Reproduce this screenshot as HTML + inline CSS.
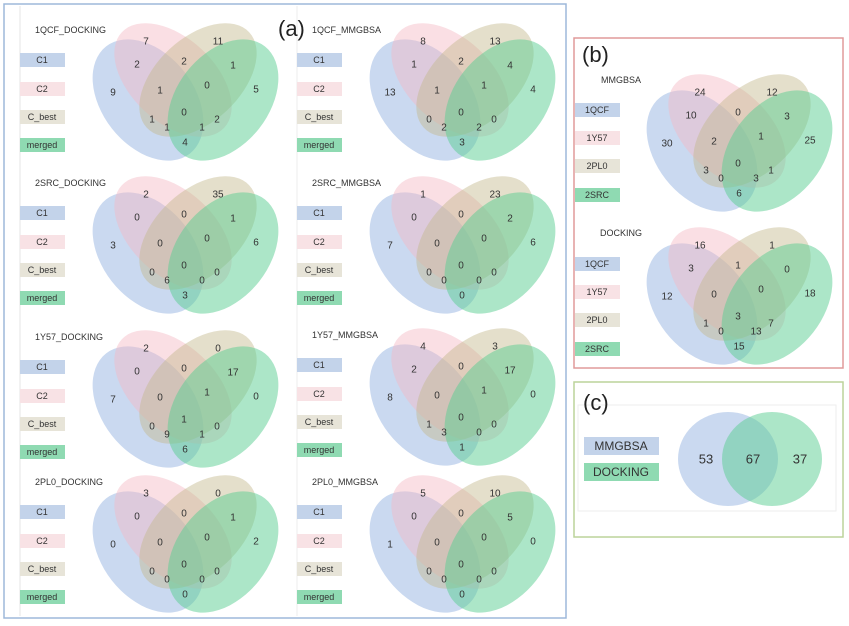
<!DOCTYPE html>
<html><head><meta charset="utf-8"><style>
html,body{margin:0;padding:0;background:#fff}
svg{display:block;font-family:"Liberation Sans",sans-serif}
.n{font-size:10px;fill:#333;text-anchor:middle;dominant-baseline:central}
.l{font-size:9px;fill:#333}
.lg{font-size:9px;fill:#333;text-anchor:middle;dominant-baseline:central}
</style></head><body>
<svg width="849" height="626" viewBox="0 0 849 626" xmlns="http://www.w3.org/2000/svg">
<defs>
<g id="E">
<ellipse cx="148" cy="100" rx="68" ry="46" transform="rotate(52 148 100)" fill="rgba(150,180,225,0.5)"/>
<ellipse cx="173" cy="80" rx="70" ry="42" transform="rotate(43 173 80)" fill="rgba(245,185,195,0.45)"/>
<ellipse cx="198" cy="80" rx="70" ry="42" transform="rotate(-43 198 80)" fill="rgba(195,185,140,0.45)"/>
<ellipse cx="223" cy="100" rx="68" ry="46" transform="rotate(-52 223 100)" fill="rgba(90,205,145,0.5)"/>
</g>
<g id="L">
<rect x="20" y="53" width="45" height="14" fill="#c3d3ea"/>
<rect x="20" y="82" width="45" height="14" fill="#f8e2e5"/>
<rect x="20" y="110" width="45" height="14" fill="#e7e4d8"/>
<rect x="20" y="138" width="45" height="14" fill="#8fdab2"/>
</g>
</defs>
<rect x="4" y="4" width="562" height="614" fill="none" stroke="#9db8da" stroke-width="1.5"/>
<line x1="20" y1="6" x2="20" y2="616" stroke="#e4e4e4"/>
<line x1="297" y1="6" x2="297" y2="616" stroke="#ececec"/>
<text x="278" y="36" font-size="22" fill="#222">(a)</text>

<g transform="translate(0,0)"><use href="#E"/><use href="#L"/><text class="l" x="35" y="33">1QCF_DOCKING</text>
<text class="lg" x="42" y="60">C1</text><text class="lg" x="42" y="89">C2</text><text class="lg" x="42" y="117">C_best</text><text class="lg" x="42" y="145">merged</text>
<text class="n" x="146" y="42">7</text><text class="n" x="218" y="42">11</text><text class="n" x="137" y="65">2</text><text class="n" x="184" y="62">2</text><text class="n" x="233" y="66">1</text><text class="n" x="113" y="93">9</text><text class="n" x="160" y="91">1</text><text class="n" x="207" y="86">0</text><text class="n" x="256" y="90">5</text><text class="n" x="152" y="120">1</text><text class="n" x="184" y="113">0</text><text class="n" x="217" y="120">2</text><text class="n" x="167" y="128">1</text><text class="n" x="202" y="128">1</text><text class="n" x="185" y="143">4</text></g>

<g transform="translate(277,0)"><use href="#E"/><use href="#L"/><text class="l" x="35" y="33">1QCF_MMGBSA</text>
<text class="lg" x="42" y="60">C1</text><text class="lg" x="42" y="89">C2</text><text class="lg" x="42" y="117">C_best</text><text class="lg" x="42" y="145">merged</text>
<text class="n" x="146" y="42">8</text><text class="n" x="218" y="42">13</text><text class="n" x="137" y="65">1</text><text class="n" x="184" y="62">2</text><text class="n" x="233" y="66">4</text><text class="n" x="113" y="93">13</text><text class="n" x="160" y="91">1</text><text class="n" x="207" y="86">1</text><text class="n" x="256" y="90">4</text><text class="n" x="152" y="120">0</text><text class="n" x="184" y="113">0</text><text class="n" x="217" y="120">0</text><text class="n" x="167" y="128">2</text><text class="n" x="202" y="128">2</text><text class="n" x="185" y="143">3</text></g>

<g transform="translate(0,153)"><use href="#E"/><use href="#L"/><text class="l" x="35" y="33">2SRC_DOCKING</text>
<text class="lg" x="42" y="60">C1</text><text class="lg" x="42" y="89">C2</text><text class="lg" x="42" y="117">C_best</text><text class="lg" x="42" y="145">merged</text>
<text class="n" x="146" y="42">2</text><text class="n" x="218" y="42">35</text><text class="n" x="137" y="65">0</text><text class="n" x="184" y="62">0</text><text class="n" x="233" y="66">1</text><text class="n" x="113" y="93">3</text><text class="n" x="160" y="91">0</text><text class="n" x="207" y="86">0</text><text class="n" x="256" y="90">6</text><text class="n" x="152" y="120">0</text><text class="n" x="184" y="113">0</text><text class="n" x="217" y="120">0</text><text class="n" x="167" y="128">6</text><text class="n" x="202" y="128">0</text><text class="n" x="185" y="143">3</text></g>

<g transform="translate(277,153)"><use href="#E"/><use href="#L"/><text class="l" x="35" y="33">2SRC_MMGBSA</text>
<text class="lg" x="42" y="60">C1</text><text class="lg" x="42" y="89">C2</text><text class="lg" x="42" y="117">C_best</text><text class="lg" x="42" y="145">merged</text>
<text class="n" x="146" y="42">1</text><text class="n" x="218" y="42">23</text><text class="n" x="137" y="65">0</text><text class="n" x="184" y="62">0</text><text class="n" x="233" y="66">2</text><text class="n" x="113" y="93">7</text><text class="n" x="160" y="91">0</text><text class="n" x="207" y="86">0</text><text class="n" x="256" y="90">6</text><text class="n" x="152" y="120">0</text><text class="n" x="184" y="113">0</text><text class="n" x="217" y="120">0</text><text class="n" x="167" y="128">0</text><text class="n" x="202" y="128">0</text><text class="n" x="185" y="143">0</text></g>

<g transform="translate(0,307)"><use href="#E"/><use href="#L"/><text class="l" x="35" y="33">1Y57_DOCKING</text>
<text class="lg" x="42" y="60">C1</text><text class="lg" x="42" y="89">C2</text><text class="lg" x="42" y="117">C_best</text><text class="lg" x="42" y="145">merged</text>
<text class="n" x="146" y="42">2</text><text class="n" x="218" y="42">0</text><text class="n" x="137" y="65">0</text><text class="n" x="184" y="62">0</text><text class="n" x="233" y="66">17</text><text class="n" x="113" y="93">7</text><text class="n" x="160" y="91">0</text><text class="n" x="207" y="86">1</text><text class="n" x="256" y="90">0</text><text class="n" x="152" y="120">0</text><text class="n" x="184" y="113">1</text><text class="n" x="217" y="120">0</text><text class="n" x="167" y="128">9</text><text class="n" x="202" y="128">1</text><text class="n" x="185" y="143">6</text></g>

<g transform="translate(277,305)"><use href="#E"/><use href="#L"/><text class="l" x="35" y="33">1Y57_MMGBSA</text>
<text class="lg" x="42" y="60">C1</text><text class="lg" x="42" y="89">C2</text><text class="lg" x="42" y="117">C_best</text><text class="lg" x="42" y="145">merged</text>
<text class="n" x="146" y="42">4</text><text class="n" x="218" y="42">3</text><text class="n" x="137" y="65">2</text><text class="n" x="184" y="62">0</text><text class="n" x="233" y="66">17</text><text class="n" x="113" y="93">8</text><text class="n" x="160" y="91">0</text><text class="n" x="207" y="86">1</text><text class="n" x="256" y="90">0</text><text class="n" x="152" y="120">1</text><text class="n" x="184" y="113">0</text><text class="n" x="217" y="120">0</text><text class="n" x="167" y="128">3</text><text class="n" x="202" y="128">0</text><text class="n" x="185" y="143">1</text></g>

<g transform="translate(0,452)"><use href="#E"/><use href="#L"/><text class="l" x="35" y="33">2PL0_DOCKING</text>
<text class="lg" x="42" y="60">C1</text><text class="lg" x="42" y="89">C2</text><text class="lg" x="42" y="117">C_best</text><text class="lg" x="42" y="145">merged</text>
<text class="n" x="146" y="42">3</text><text class="n" x="218" y="42">0</text><text class="n" x="137" y="65">0</text><text class="n" x="184" y="62">0</text><text class="n" x="233" y="66">1</text><text class="n" x="113" y="93">0</text><text class="n" x="160" y="91">0</text><text class="n" x="207" y="86">0</text><text class="n" x="256" y="90">2</text><text class="n" x="152" y="120">0</text><text class="n" x="184" y="113">0</text><text class="n" x="217" y="120">0</text><text class="n" x="167" y="128">0</text><text class="n" x="202" y="128">0</text><text class="n" x="185" y="143">0</text></g>

<g transform="translate(277,452)"><use href="#E"/><use href="#L"/><text class="l" x="35" y="33">2PL0_MMGBSA</text>
<text class="lg" x="42" y="60">C1</text><text class="lg" x="42" y="89">C2</text><text class="lg" x="42" y="117">C_best</text><text class="lg" x="42" y="145">merged</text>
<text class="n" x="146" y="42">5</text><text class="n" x="218" y="42">10</text><text class="n" x="137" y="65">0</text><text class="n" x="184" y="62">0</text><text class="n" x="233" y="66">5</text><text class="n" x="113" y="93">1</text><text class="n" x="160" y="91">0</text><text class="n" x="207" y="86">0</text><text class="n" x="256" y="90">0</text><text class="n" x="152" y="120">0</text><text class="n" x="184" y="113">0</text><text class="n" x="217" y="120">0</text><text class="n" x="167" y="128">0</text><text class="n" x="202" y="128">0</text><text class="n" x="185" y="143">0</text></g>

<rect x="574" y="38" width="269" height="330" fill="none" stroke="#e09a9a" stroke-width="1.5"/>
<text x="582" y="62" font-size="22" fill="#222">(b)</text>
<text class="l" x="601" y="83">MMGBSA</text>
<text class="l" x="600" y="236">DOCKING</text>
<rect x="575" y="103" width="45" height="14" fill="#c3d3ea"/><text class="lg" x="597" y="110">1QCF</text>
<rect x="575" y="131" width="45" height="14" fill="#f8e2e5"/><text class="lg" x="597" y="138">1Y57</text>
<rect x="575" y="159" width="45" height="14" fill="#e7e4d8"/><text class="lg" x="597" y="166">2PL0</text>
<rect x="575" y="188" width="45" height="14" fill="#8fdab2"/><text class="lg" x="597" y="195">2SRC</text>
<rect x="575" y="257" width="45" height="14" fill="#c3d3ea"/><text class="lg" x="597" y="264">1QCF</text>
<rect x="575" y="285" width="45" height="14" fill="#f8e2e5"/><text class="lg" x="597" y="292">1Y57</text>
<rect x="575" y="313" width="45" height="14" fill="#e7e4d8"/><text class="lg" x="597" y="320">2PL0</text>
<rect x="575" y="342" width="45" height="14" fill="#8fdab2"/><text class="lg" x="597" y="349">2SRC</text>

<g transform="translate(554,51)"><use href="#E"/>
<text class="n" x="146" y="42">24</text><text class="n" x="218" y="42">12</text><text class="n" x="137" y="65">10</text><text class="n" x="184" y="62">0</text><text class="n" x="233" y="66">3</text><text class="n" x="113" y="93">30</text><text class="n" x="160" y="91">2</text><text class="n" x="207" y="86">1</text><text class="n" x="256" y="90">25</text><text class="n" x="152" y="120">3</text><text class="n" x="184" y="113">0</text><text class="n" x="217" y="120">1</text><text class="n" x="167" y="128">0</text><text class="n" x="202" y="128">3</text><text class="n" x="185" y="143">6</text></g>

<g transform="translate(554,204)"><use href="#E"/>
<text class="n" x="146" y="42">16</text><text class="n" x="218" y="42">1</text><text class="n" x="137" y="65">3</text><text class="n" x="184" y="62">1</text><text class="n" x="233" y="66">0</text><text class="n" x="113" y="93">12</text><text class="n" x="160" y="91">0</text><text class="n" x="207" y="86">0</text><text class="n" x="256" y="90">18</text><text class="n" x="152" y="120">1</text><text class="n" x="184" y="113">3</text><text class="n" x="217" y="120">7</text><text class="n" x="167" y="128">0</text><text class="n" x="202" y="128">13</text><text class="n" x="185" y="143">15</text></g>

<rect x="574" y="382" width="269" height="155" fill="none" stroke="#bcd39a" stroke-width="1.5"/>
<rect x="578" y="405" width="258" height="106" fill="none" stroke="#eeeeee"/>
<text x="583" y="410" font-size="22" fill="#222">(c)</text>
<rect x="584" y="437" width="75" height="18" fill="#c3d3ea"/><text x="621" y="446" font-size="12" fill="#333" text-anchor="middle" dominant-baseline="central">MMGBSA</text>
<rect x="584" y="463" width="75" height="18" fill="#8fdab2"/><text x="621" y="472" font-size="12" fill="#333" text-anchor="middle" dominant-baseline="central">DOCKING</text>
<ellipse cx="728" cy="459" rx="50" ry="47" fill="rgba(150,180,225,0.5)"/>
<ellipse cx="772" cy="459" rx="50" ry="47" fill="rgba(90,205,145,0.5)"/>
<text x="706" y="459" font-size="13" fill="#333" text-anchor="middle" dominant-baseline="central">53</text>
<text x="753" y="459" font-size="13" fill="#333" text-anchor="middle" dominant-baseline="central">67</text>
<text x="800" y="459" font-size="13" fill="#333" text-anchor="middle" dominant-baseline="central">37</text>
</svg>
</body></html>
